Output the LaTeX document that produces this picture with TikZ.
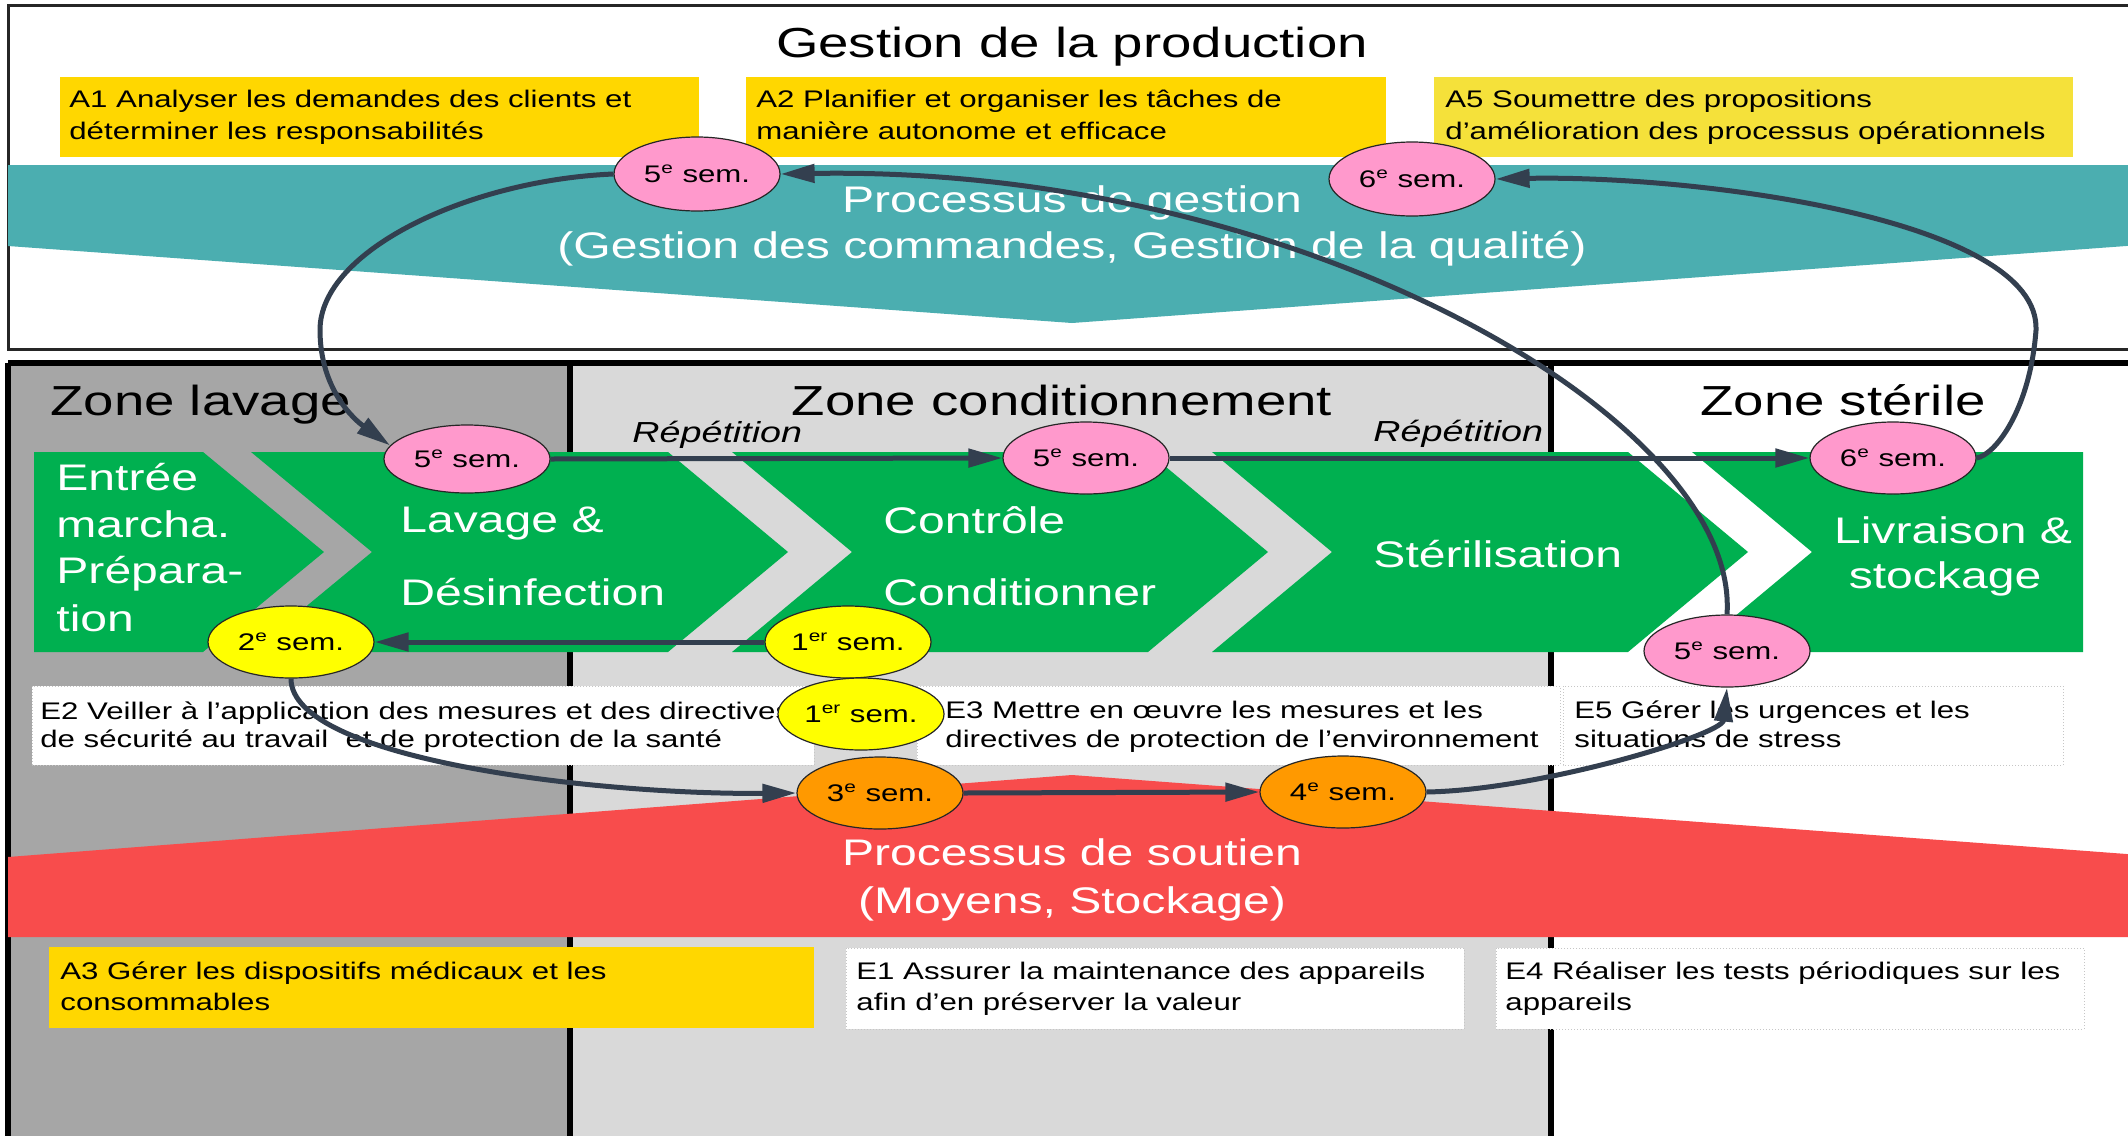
\documentclass[tikz,border=0pt]{standalone}
\usepackage{fontspec}
\setmainfont{Liberation Sans}[FakeStretch=1.3]
\usetikzlibrary{shapes.geometric,arrows.meta}
\definecolor{lavC}{HTML}{A6A6A6}
\definecolor{condC}{HTML}{D9D9D9}
\definecolor{greenC}{HTML}{00B050}
\definecolor{tealC}{HTML}{4BAEB0}
\definecolor{redC}{HTML}{F84C4C}
\definecolor{goldC}{HTML}{FFD700}
\definecolor{goldBC}{HTML}{F5E13A}
\definecolor{pinkC}{HTML}{FF99CC}
\definecolor{yelC}{HTML}{FFFF00}
\definecolor{orgC}{HTML}{FF9900}
\definecolor{connC}{HTML}{333F4F}
\definecolor{frameC}{HTML}{262626}
\begin{document}
\begin{tikzpicture}[x=0.5pt,y=-0.5pt,
  sem/.style={ellipse, draw=black!85, line width=0.6pt, minimum width=83pt, minimum height=36pt, inner sep=0pt, font=\fontsize{12}{14}\selectfont},
  conn/.style={draw=connC, line width=2.5pt, -{Triangle[length=17pt,width=9pt]}},
  boxtxt/.style={anchor=base west, inner sep=0pt, font=\fontsize{12}{14}\selectfont},
  chevtxt/.style={anchor=base west, inner sep=0pt, text=white, font=\fontsize{18.5}{22}\selectfont},
  bigtxt/.style={anchor=base, inner sep=0pt, text=white, font=\fontsize{18.5}{22}\selectfont},
  titletxt/.style={inner sep=0pt, font=\fontsize{21}{25}\selectfont},
  reptxt/.style={anchor=base west, inner sep=0pt, font=\fontsize{14.5}{17}\itshape},
  ebox/.style={fill=white, draw=gray!45, densely dotted, line width=0.5pt},
  zoneline/.style={draw=black, line width=3pt}
]
\useasboundingbox (0,0) rectangle (2128,1135);
\clip (0,0) rectangle (2128,1135);
\fill[white] (0,0) rectangle (2128,1135);

% ---------- top box ----------
\draw[frameC, line width=1.5pt] (2140,5) -- (8,5) -- (8,349) -- (2140,349);
\fill[goldC] (60,77) rectangle (699,157);
\fill[goldC] (746,77) rectangle (1386,157);
\fill[goldBC] (1434,77) rectangle (2073,157);
\node[boxtxt] (a1a) at (69,107) {A1 Analyser les demandes des clients et};
\node[boxtxt] (a1b) at (69,139) {déterminer les responsabilités};
\node[boxtxt] (a2a) at (756,107) {A2 Planifier et organiser les tâches de};
\node[boxtxt] (a2b) at (756,139) {manière autonome et efficace};
\node[boxtxt] (a5a) at (1445,107) {A5 Soumettre des propositions};
\node[boxtxt] (a5b) at (1445,139) {d’amélioration des processus opérationnels};
\fill[tealC] (8,165) -- (2140,165) -- (2140,245) -- (1072,323) -- (8,246) -- cycle;
\node[bigtxt] (pg1) at (1072,212) {Processus de gestion};
\node[bigtxt] (pg2) at (1072,258) {(Gestion des commandes, Gestion de la qualité)};
\node[titletxt, anchor=base] (title) at (1072,57) {Gestion de la production};

% ---------- zones ----------
\fill[lavC] (8,363) rectangle (570,1140);
\fill[condC] (570,363) rectangle (1551,1140);
\draw[zoneline] (8,363) -- (2140,363);
\draw[zoneline] (8,363) -- (8,1140);
\draw[zoneline] (570,363) -- (570,1140);
\draw[zoneline] (1551,363) -- (1551,1140);
\node[titletxt, anchor=base west] (zl) at (50,415) {Zone lavage};
\node[titletxt, anchor=base] (zc) at (1062,415) {Zone conditionnement};
\node[titletxt, anchor=base] (zs) at (1843,415) {Zone stérile};

% ---------- chevrons ----------
\fill[greenC] (34,452) -- (203,452) -- (324,552) -- (203,652) -- (34,652) -- cycle;
\fill[greenC] (251,452) -- (668,452) -- (788,552) -- (668,652) -- (251,652) -- (372,552) -- cycle;
\fill[greenC] (732,452) -- (1148,452) -- (1268,552) -- (1148,652) -- (732,652) -- (852,552) -- cycle;
\fill[greenC] (1212,452) -- (1628,452) -- (1748,552) -- (1628,652) -- (1212,652) -- (1332,552) -- cycle;
\fill[greenC] (1692,452) -- (2083,452) -- (2083,652) -- (1692,652) -- (1812,552) -- cycle;
\node[chevtxt] (c1a) at (56,490) {Entrée};
\node[chevtxt] (c1b) at (56,537) {marcha.};
\node[chevtxt] (c1c) at (56,583) {Prépara-};
\node[chevtxt] (c1d) at (56,631) {tion};
\node[chevtxt] (c2a) at (400,532) {Lavage \&};
\node[chevtxt] (c2b) at (400,605) {Désinfection};
\node[chevtxt] (c3a) at (883,533) {Contrôle};
\node[chevtxt] (c3b) at (883,605) {Conditionner};
\node[chevtxt] (c4a) at (1373,567) {Stérilisation};
\node[bigtxt] (c5a) at (1953,543) {Livraison \&};
\node[bigtxt] (c5b) at (1945,588) {stockage};
\node[reptxt] (r1) at (632,442) {Répétition};
\node[reptxt] (r2) at (1373,441) {Répétition};

% ---------- support process ----------
\fill[redC] (8,857) -- (1072,775) -- (2140,855) -- (2140,937) -- (8,937) -- cycle;
\node[bigtxt] (ps1) at (1072,865) {Processus de soutien};
\node[bigtxt] (ps2) at (1072,913) {(Moyens, Stockage)};

% ---------- boxes ----------
\path[ebox] (32,686) rectangle (814,765);
\path[ebox] (917,686) rectangle (1560,765);
\path[ebox] (1563,686) rectangle (2063,765);
\fill[goldC] (49,947) rectangle (814,1028);
\path[ebox] (846,948) rectangle (1464,1029);
\path[ebox] (1496,948) rectangle (2084,1029);
\node[boxtxt] (e2a) at (40,719) {E2 Veiller à l’application des mesures et des directives};
\node[boxtxt] (e2b) at (40,747) {de sécurité au travail\ \ et de protection de la santé};
\node[boxtxt] (e3a) at (945,718) {E3 Mettre en œuvre les mesures et les};
\node[boxtxt] (e3b) at (945,747) {directives de protection de l’environnement};
\node[boxtxt] (e5a) at (1574,718) {E5 Gérer les urgences et les};
\node[boxtxt] (e5b) at (1574,747) {situations de stress};
\node[boxtxt] (a3a) at (60,979) {A3 Gérer les dispositifs médicaux et les};
\node[boxtxt] (a3b) at (60,1010) {consommables};
\node[boxtxt] (e1a) at (856,979) {E1 Assurer la maintenance des appareils};
\node[boxtxt] (e1b) at (856,1010) {afin d’en préserver la valeur};
\node[boxtxt] (e4a) at (1505,979) {E4 Réaliser les tests périodiques sur les};
\node[boxtxt] (e4b) at (1505,1010) {appareils};

% ---------- semester ellipses ----------
\node[sem, fill=pinkC, minimum height=37pt] (P1) at (697,174) {5\textsuperscript{e} sem.};
\node[sem, fill=pinkC, minimum height=37pt] (P2) at (1412,179) {6\textsuperscript{e} sem.};
\node[sem, fill=pinkC, minimum height=34pt] (P3) at (467,459) {5\textsuperscript{e} sem.};
\node[sem, fill=pinkC] (P4) at (1086,458) {5\textsuperscript{e} sem.};
\node[sem, fill=pinkC] (P5) at (1893,458) {6\textsuperscript{e} sem.};
\node[sem, fill=pinkC] (P6) at (1727,651) {5\textsuperscript{e} sem.};
\node[sem, fill=yelC] (Y1) at (291,642) {2\textsuperscript{e} sem.};
\node[sem, fill=yelC] (Y2) at (848,642) {1\textsuperscript{er} sem.};
\node[sem, fill=yelC] (Y3) at (861,714) {1\textsuperscript{er} sem.};
\node[sem, fill=orgC] (O1) at (880,793) {3\textsuperscript{e} sem.};
\node[sem, fill=orgC] (O2) at (1343,792) {4\textsuperscript{e} sem.};

% ---------- connectors ----------
\draw[conn] (P1.west) .. controls (470,180) and (320,250) .. (320,330) .. controls (320,390) and (355,420) .. (P3.170);
\draw[conn] (P3.east) -- (P4.west);
\draw[conn] (P4.east) -- (P5.west);
\draw[conn] (P5.east) .. controls (1995,455) and (2030,410) .. (2036,330) .. controls (2040,220) and (1700,175) .. (P2.east);
\draw[conn] (P6.north) .. controls (1740,420) and (1300,165) .. (P1.east);
\draw[conn] (Y2.west) -- (Y1.east);
\draw[conn] (Y1.south) .. controls (291,760) and (600,795) .. (O1.west);
\draw[conn] (O1.east) -- (O2.west);
\draw[conn] (O2.east) .. controls (1540,790) and (1722,735) .. (P6.south);
\end{tikzpicture}
\end{document}
